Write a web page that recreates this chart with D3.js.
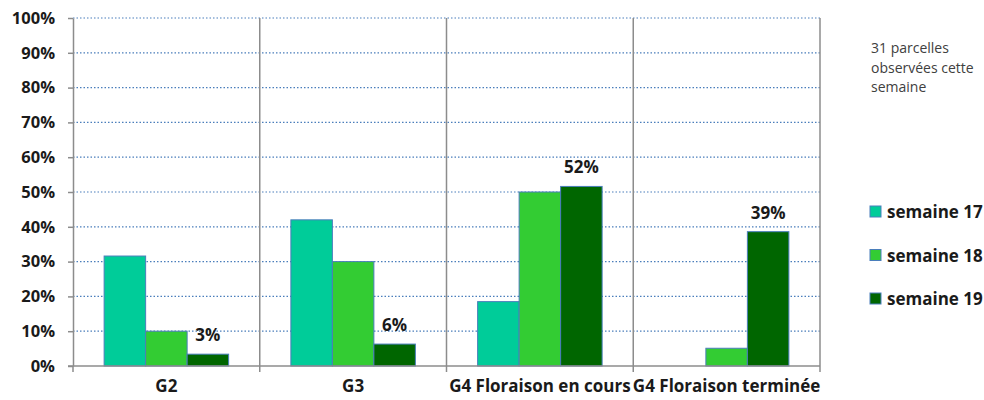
<!DOCTYPE html>
<meta charset="utf-8">
<style>
body { margin: 0; background: #fff; }
svg { font-family: "Open Sans", "DejaVu Sans", sans-serif; }
.grid line { stroke: #4a7ebb; stroke-width: 1.2px; stroke-dasharray: 1.5 2; }
.sep { stroke: #8c8c8c; stroke-width: 1.5px; }
.axis path, .axis line { stroke: #8c8c8c; stroke-width: 1.5px; }
.axis text { font-weight: bold; fill: #1a1a1a; font-family: "Open Sans", sans-serif; }
.bar { stroke: #4a7ebb; stroke-width: 1px; }
.lbl { font-weight: bold; font-size: 17px; fill: #1a1a1a; }
</style>
<body>
<script src="https://d3js.org/d3.v7.min.js"></script>
<script>
var categories = ["G2", "G3", "G4 Floraison en cours", "G4 Floraison terminée"];
var series = ["semaine 17", "semaine 18", "semaine 19"];
var colors = ["#00cc99", "#33cc33", "#006600"];
var sem17 = [31.6, 42, 18.5, 0];
var sem18 = [10, 30, 50, 5.1];
var sem19 = [3.4, 6.3, 51.6, 38.6];
var labels19 = ["3%", "6%", "52%", "39%"];
var yTicks = [0, 10, 20, 30, 40, 50, 60, 70, 80, 90, 100];
var note = ["31 parcelles", "observées cette", "semaine"];

var values = [sem17, sem18, sem19];

var width = 984, height = 400;
var svg = d3.select("body").append("svg")
    .attr("width", width)
    .attr("height", height);

var x = d3.scaleBand().domain(categories).range([73, 820]).paddingInner(0).paddingOuter(0);
var xs = d3.scaleBand().domain(series).range([0, x.bandwidth()]).paddingInner(0).paddingOuter(0.75);
var y = d3.scaleLinear().domain([0, 100]).range([366, 18]);

// dotted gridlines
svg.append("g").attr("class", "grid")
  .selectAll("line")
  .data(yTicks.filter(function(d) { return d > 0; }))
  .enter().append("line")
    .attr("x1", 73).attr("x2", 820)
    .attr("y1", function(d) { return y(d); })
    .attr("y2", function(d) { return y(d); });

// vertical separators between categories
svg.append("g")
  .selectAll("line")
  .data(categories)
  .enter().append("line")
    .attr("class", "sep")
    .attr("x1", function(d) { return x(d) + x.bandwidth(); })
    .attr("x2", function(d) { return x(d) + x.bandwidth(); })
    .attr("y1", y(100)).attr("y2", y(0));

// bars
var groups = svg.append("g").selectAll("g")
  .data(categories)
  .enter().append("g")
    .attr("transform", function(d) { return "translate(" + x(d) + ",0)"; });

groups.selectAll("rect")
  .data(function(d, ci) {
    return series.map(function(s, si) { return { s: s, si: si, v: values[si][ci] }; });
  })
  .enter().filter(function(d) { return d.v > 0; }).append("rect")
    .attr("class", "bar")
    .attr("x", function(d) { return xs(d.s); })
    .attr("width", xs.bandwidth())
    .attr("y", function(d) { return y(d.v); })
    .attr("height", function(d) { return y(0) - y(d.v); })
    .attr("fill", function(d) { return colors[d.si]; });

// data labels on semaine 19
groups.append("text")
    .attr("class", "lbl")
    .attr("text-anchor", "middle")
    .attr("x", xs("semaine 19") + xs.bandwidth() / 2)
    .attr("y", function(d, i) { return y(sem19[i]) - 13; })
    .text(function(d, i) { return labels19[i]; });

// y axis
var yAxis = d3.axisLeft(y).tickValues(yTicks).tickSize(5).tickSizeOuter(0)
    .tickFormat(function(d) { return d + "%"; });
var ya = svg.append("g").attr("class", "axis").attr("transform", "translate(73,0)").call(yAxis);
ya.selectAll("text").attr("x", -18).attr("font-size", "16.5px");

// x axis
var xa = svg.append("g").attr("class", "axis").attr("transform", "translate(0," + y(0) + ")");
xa.append("line").attr("x1", 68).attr("x2", 820).attr("y1", 0).attr("y2", 0);
xa.selectAll(".tk")
  .data([0, 1, 2, 3, 4])
  .enter().append("line")
    .attr("x1", function(d) { return 73 + x.bandwidth() * d; })
    .attr("x2", function(d) { return 73 + x.bandwidth() * d; })
    .attr("y1", 0).attr("y2", 6);
xa.selectAll(".cat")
  .data(categories)
  .enter().append("text")
    .attr("text-anchor", "middle")
    .attr("font-size", "17px")
    .attr("x", function(d) { return x(d) + x.bandwidth() / 2; })
    .attr("y", 26)
    .text(function(d) { return d; });

// legend
var legend = svg.append("g").selectAll("g")
  .data(series)
  .enter().append("g")
    .attr("transform", function(d, i) { return "translate(870," + (206 + i * 43.5) + ")"; });
legend.append("rect")
    .attr("width", 11).attr("height", 11)
    .attr("fill", function(d, i) { return colors[i]; })
    .attr("stroke", "#4a7ebb");
legend.append("text")
    .attr("x", 17).attr("y", 12)
    .attr("font-weight", "bold").attr("font-size", "17px").attr("fill", "#1a1a1a")
    .text(function(d) { return d; });

// note
svg.append("g").selectAll("text")
  .data(note)
  .enter().append("text")
    .attr("x", 871)
    .attr("y", function(d, i) { return 53 + i * 19.5; })
    .attr("font-size", "14px").attr("fill", "#404040")
    .text(function(d) { return d; });
</script>
</body>
